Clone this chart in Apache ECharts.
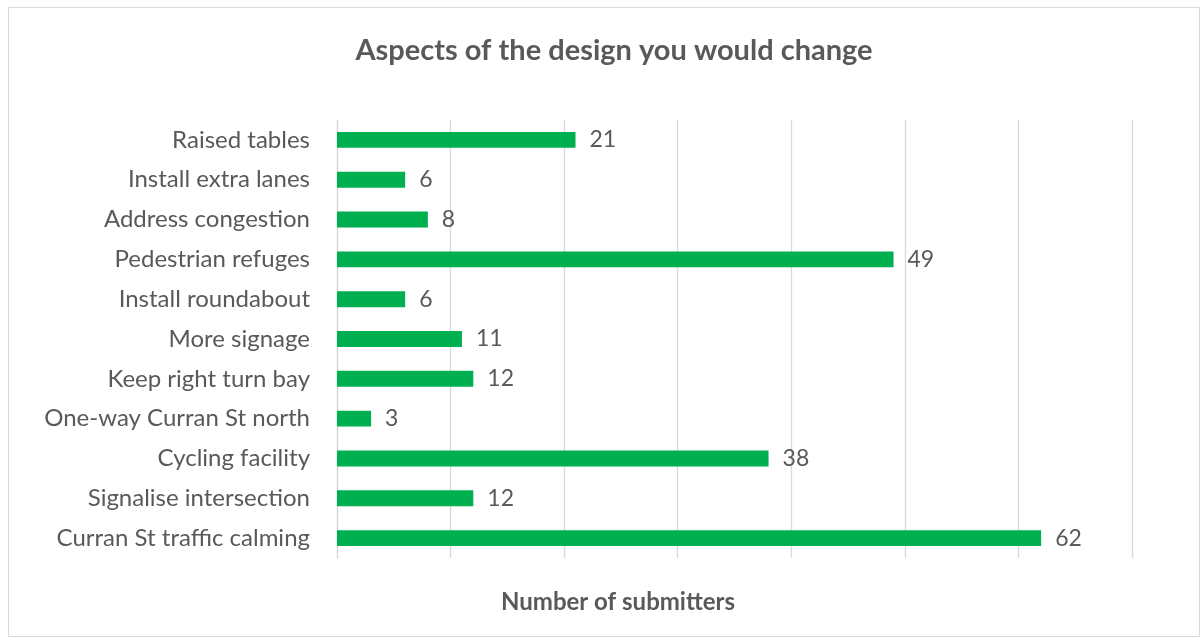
<!DOCTYPE html>
<html>
<head>
<meta charset="utf-8">
<script src="https://cdn.jsdelivr.net/npm/echarts@6/dist/echarts.min.js"></script>
<style>
  html, body { margin: 0; padding: 0; background: #fff; }
  #chart { width: 1203px; height: 639px; }
</style>
</head>
<body>
<div id="chart"></div>
<script>
// Categories listed top to bottom
const categories = [
  'Raised tables',
  'Install extra lanes',
  'Address congestion',
  'Pedestrian refuges',
  'Install roundabout',
  'More signage',
  'Keep right turn bay',
  'One-way Curran St north',
  'Cycling facility',
  'Signalise intersection',
  'Curran St traffic calming'
];
const submitters = [21, 6, 8, 49, 6, 11, 12, 3, 38, 12, 62];

const titleText = 'Aspects of the design you would change';
const axisTitle = 'Number of submitters';

const FONT = 'Lato, "Open Sans", sans-serif';
const TEXT = '#595959';

const chart = echarts.init(document.getElementById('chart'));
chart.setOption({
  animation: false,
  backgroundColor: '#ffffff',
  title: [{
    text: titleText,
    left: 609,
    textAlign: 'center',
    top: 31,
    textStyle: { fontFamily: FONT, fontSize: 29, fontWeight: 'bold', color: TEXT }
  }, {
    // value-axis title, centred on the whole chart area
    text: axisTitle,
    left: 613,
    textAlign: 'center',
    top: 585,
    textStyle: { fontFamily: FONT, fontSize: 24, fontWeight: 'bold', color: TEXT }
  }],
  graphic: [{
    type: 'rect',
    shape: { x: 8.5, y: 7.5, width: 1191, height: 629 },
    style: { fill: 'none', stroke: '#d9d9d9', lineWidth: 1 },
    silent: true
  }],
  grid: { left: 337, right: 71, top: 120, bottom: 81, containLabel: false },
  xAxis: {
    type: 'value',
    min: 0,
    max: 70,
    interval: 10,
    axisLine: { show: false },
    axisTick: { show: false },
    axisLabel: { show: false },
    splitLine: { show: true, lineStyle: { color: '#d9d9d9', width: 1.3 } }
  },
  yAxis: {
    type: 'category',
    data: categories,
    inverse: true,
    axisLine: { show: true, lineStyle: { color: '#d9d9d9', width: 1.3 } },
    axisTick: { show: false },
    axisLabel: { fontFamily: FONT, fontSize: 24, color: TEXT, margin: 27 }
  },
  series: [{
    type: 'bar',
    data: submitters,
    barCategoryGap: '60%',
    itemStyle: { color: '#00b050' },
    label: {
      show: true,
      position: 'right',
      distance: 14,
      fontFamily: FONT,
      fontSize: 23,
      color: TEXT
    }
  }]
});
</script>
</body>
</html>
